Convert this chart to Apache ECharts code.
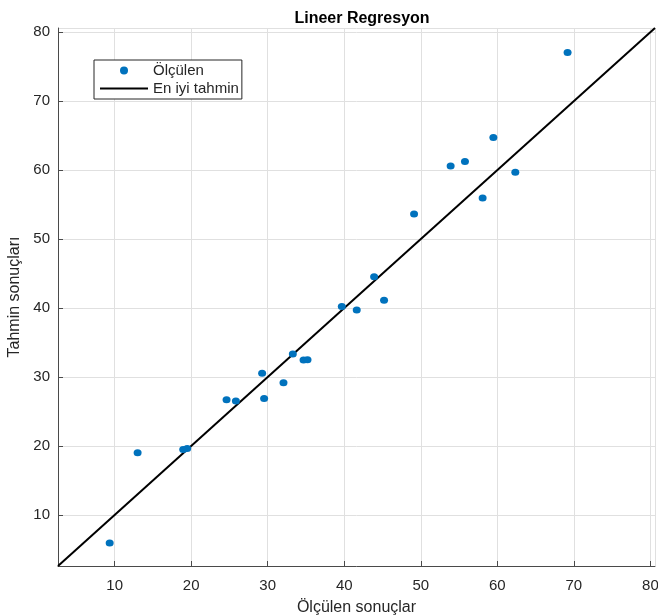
<!DOCTYPE html>
<html>
<head>
<meta charset="utf-8">
<script src="https://cdn.jsdelivr.net/npm/echarts@6/dist/echarts.min.js"></script>
<style>
html,body{margin:0;padding:0;background:#fff;}
#chart{width:658px;height:616px;}
</style>
</head>
<body>
<div id="chart"></div>
<script>
// Measured (Ölçülen) vs predicted (Tahmin) values
const measuredX = [9.35, 13.0, 18.96, 19.48, 24.62, 25.84, 29.27, 29.53, 32.06, 33.28, 34.68, 35.2, 39.68, 41.63, 45.2, 43.9, 49.12, 53.9, 55.77, 59.48, 58.08, 62.35, 69.18];
const predictedY = [5.95, 19.02, 19.5, 19.65, 26.7, 26.51, 30.56, 26.89, 29.16, 33.32, 32.45, 32.5, 40.21, 39.73, 41.13, 44.55, 53.63, 60.58, 61.26, 64.74, 55.95, 59.67, 77.05];
// Best-fit line endpoints (y = x across the axis range)
const fitX = [2.6, 80.6];
const fitY = [2.6, 80.6];
const axisMin = 2.6;
const axisMax = 80.6;

const titleText = 'Lineer Regresyon';
const xName = 'Ölçülen sonuçlar';
const yName = 'Tahmin sonuçları';
const seriesNames = ['Ölçülen', 'En iyi tahmin'];

const FONT = '"Liberation Sans", Arial, Helvetica, sans-serif';
const TXT = '#262626';

function axis(name, nameGap, labelMargin) {
  return {
    type: 'value',
    min: axisMin,
    max: axisMax,
    splitNumber: 8,
    name: name,
    nameLocation: 'middle',
    nameGap: nameGap,
    nameTextStyle: {fontFamily: FONT, fontSize: 16, color: TXT},
    axisLine: {show: true, onZero: false, lineStyle: {color: '#4a4a4a', width: 1}},
    axisTick: {show: true, inside: true, length: 5, lineStyle: {color: '#4a4a4a'}},
    axisLabel: {fontFamily: FONT, fontSize: 15, color: TXT, showMinLabel: false, showMaxLabel: false, margin: labelMargin},
    splitLine: {show: true, lineStyle: {color: '#e0e0e0', width: 1}}
  };
}

const chart = echarts.init(document.getElementById('chart'), null, {renderer: 'canvas'});
chart.setOption({
  backgroundColor: '#ffffff',
  animation: false,
  title: {
    text: titleText,
    left: 357, textAlign: 'center', top: 6,
    textStyle: {fontFamily: FONT, fontSize: 16, fontWeight: 'bold', color: '#000'}
  },
  grid: {left: 58, right: 3, top: 28, bottom: 50, containLabel: false, outerBoundsMode: 'none'},
  xAxis: axis(xName, 34, 12),
  yAxis: axis(yName, 34, 8),
  legend: {
    orient: 'vertical',
    left: 94, top: 60,
    backgroundColor: '#fff',
    borderColor: '#262626', borderWidth: 1,
    padding: [3, 3, 3, 5],
    itemGap: 3,
    itemWidth: 48, itemHeight: 8,
    textStyle: {fontFamily: FONT, fontSize: 15, color: TXT},
    data: [
      {name: seriesNames[0], icon: 'circle'},
      {name: seriesNames[1], itemStyle: {color: 'rgba(0,0,0,0)', borderWidth: 0, opacity: 0}}
    ]
  },
  series: [
    {
      name: seriesNames[0],
      type: 'scatter',
      symbol: 'circle',
      symbolSize: [8, 7],
      itemStyle: {color: '#0072BD', opacity: 1},
      data: measuredX.map((x, i) => [x, predictedY[i]]),
      z: 3
    },
    {
      name: seriesNames[1],
      type: 'line',
      showSymbol: false,
      symbol: 'none',
      lineStyle: {color: '#000', width: 2},
      itemStyle: {color: '#000'},
      data: fitX.map((x, i) => [x, fitY[i]]),
      z: 2
    }
  ]
});
</script>
</body>
</html>
